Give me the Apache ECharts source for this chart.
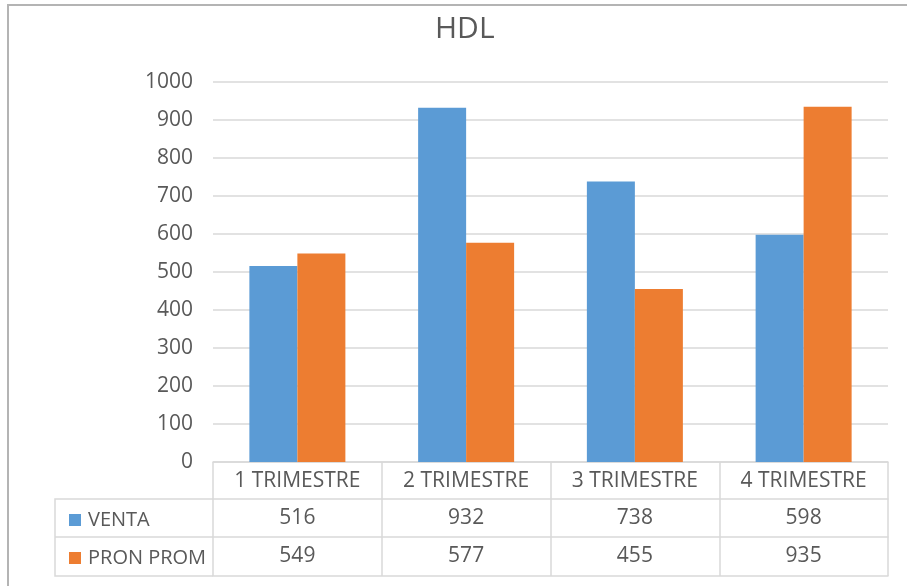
<!DOCTYPE html>
<html>
<head>
<meta charset="utf-8">
<title>HDL</title>
<script src="https://cdn.jsdelivr.net/npm/echarts@6/dist/echarts.min.js"></script>
<style>
  html, body { margin: 0; padding: 0; background: #ffffff; }
  #chart { width: 907px; height: 586px; }
</style>
</head>
<body>
<div id="chart"></div>
<script>
// Quarterly figures
const categories = ['1 TRIMESTRE', '2 TRIMESTRE', '3 TRIMESTRE', '4 TRIMESTRE'];
const venta = [516, 932, 738, 598];
const pronProm = [549, 577, 455, 935];
const seriesNames = ['VENTA', 'PRON PROM'];
const yTicks = { min: 0, max: 1000, interval: 100 };

const FONT = '"Open Sans", "Liberation Sans", sans-serif';
const TEXT = '#595959';
const LINE = '#d9d9d9';
const BLUE = '#5b9bd5';
const ORANGE = '#ed7d31';

// Plot area and data-table geometry
const W = 907, H = 586;
const gridLeft = 213, gridRight = 19, gridTop = 82, gridBottom = 124;
const rowH = [37, 38, 39];            // header, VENTA row, PRON PROM row
const tableLeft = 55;
const axisBottomY = H - gridBottom;
const tableBottom = axisBottomY + rowH[0] + rowH[1] + rowH[2];

const chart = echarts.init(document.getElementById('chart'), null, { renderer: 'canvas' });

const labelStyle = { color: TEXT, fontSize: 21, fontFamily: FONT };

// Stacked "table" axes below the plot; each axis line is a table rule
function tableAxis(offset, formatter, showLabel) {
  return {
    type: 'category',
    data: categories,
    position: 'bottom',
    offset: offset,
    gridIndex: 0,
    axisLine: { show: true, lineStyle: { color: LINE, width: 1.5 } },
    axisTick: { show: false },
    axisLabel: Object.assign({ show: showLabel, margin: 9, formatter: formatter, interval: 0 }, labelStyle),
    splitLine: { show: false }
  };
}

// Category axis: its ticks run down through the table as column rules
const headerAxis = {
  type: 'category',
  data: categories,
  position: 'bottom',
  axisLine: { show: true, lineStyle: { color: LINE, width: 1.5 } },
  axisTick: {
    show: true,
    alignWithLabel: false,
    interval: 0,
    length: tableBottom - axisBottomY,
    lineStyle: { color: LINE, width: 1.5 }
  },
  axisLabel: Object.assign({ margin: 9, interval: 0 }, labelStyle),
  splitLine: { show: false }
};

const option = {
  backgroundColor: '#ffffff',
  animation: false,
  color: [BLUE, ORANGE],
  title: {
    text: 'HDL',
    left: 430,
    top: 9,
    textStyle: { color: TEXT, fontSize: 30, fontWeight: 'normal', fontFamily: FONT }
  },
  legend: {
    data: seriesNames,
    orient: 'vertical',
    left: 64,
    top: axisBottomY + rowH[0] + 6,
    itemWidth: 12,
    itemHeight: 12,
    itemGap: 18,
    icon: 'rect',
    selectedMode: false,
    textStyle: { color: TEXT, fontSize: 20, fontFamily: FONT, lineHeight: 20, padding: [0, 0, 0, 2] }
  },
  grid: { left: gridLeft, right: gridRight, top: gridTop, bottom: gridBottom, containLabel: false },
  xAxis: [
    headerAxis,
    tableAxis(rowH[0], (v, i) => String(venta[i]), true),
    tableAxis(rowH[0] + rowH[1], (v, i) => String(pronProm[i]), true),
    tableAxis(rowH[0] + rowH[1] + rowH[2], null, false)
  ],
  yAxis: {
    type: 'value',
    min: yTicks.min,
    max: yTicks.max,
    interval: yTicks.interval,
    axisLine: { show: false },
    axisTick: { show: false },
    axisLabel: Object.assign({ margin: 20, formatter: (v) => String(v) }, labelStyle),
    splitLine: { show: true, lineStyle: { color: LINE, width: 1.5 } }
  },
  series: [
    { name: seriesNames[0], type: 'bar', data: venta, barWidth: 48, barGap: '0%', xAxisIndex: 0 },
    { name: seriesNames[1], type: 'bar', data: pronProm, barWidth: 48, barGap: '0%', xAxisIndex: 0 }
  ],
  graphic: [
    // row rules and left edge of the series-name column
    {
      type: 'polyline',
      silent: true,
      shape: { points: [[gridLeft, axisBottomY + rowH[0]], [tableLeft, axisBottomY + rowH[0]], [tableLeft, tableBottom], [gridLeft, tableBottom]] },
      style: { stroke: LINE, lineWidth: 1.5, fill: null }
    },
    {
      type: 'line',
      silent: true,
      shape: { x1: tableLeft, y1: axisBottomY + rowH[0] + rowH[1], x2: gridLeft, y2: axisBottomY + rowH[0] + rowH[1] },
      style: { stroke: LINE, lineWidth: 1.5 }
    },
    // chart frame
    {
      type: 'polyline',
      silent: true,
      shape: { points: [[8, H], [8, 5], [W, 5]] },
      style: { stroke: '#b4b4b4', lineWidth: 2, fill: null }
    }
  ]
};

chart.setOption(option);
</script>
</body>
</html>
